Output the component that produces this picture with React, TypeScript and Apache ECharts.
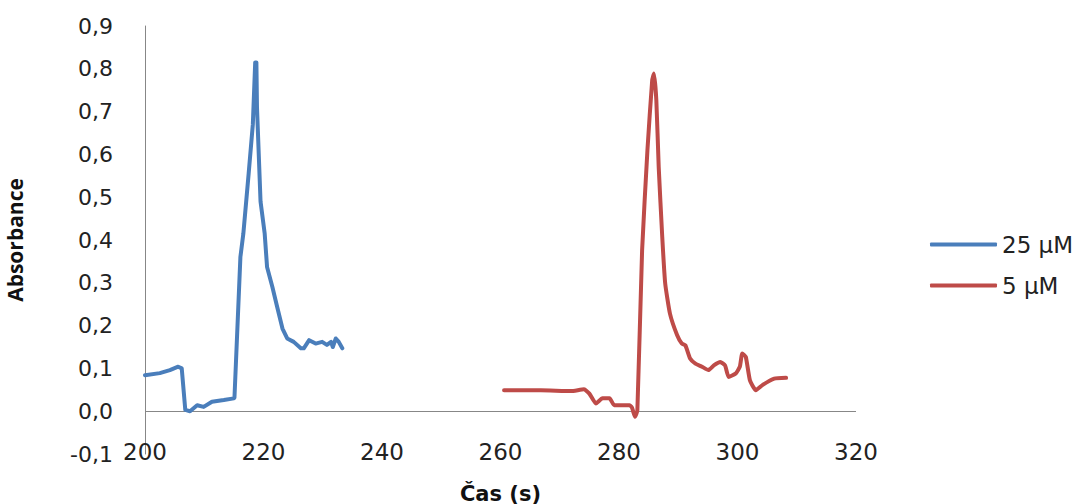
import React, { useEffect, useRef } from "react";
import * as echarts from "echarts";

const seriesNames = ["25 µM", "5 µM"];
const colors = ["#4A7EBB", "#BE4B48"];

const blueTime = [200, 202.5, 204.2, 205.6, 206.2, 206.8, 207.6, 208.8, 209.9, 211.3, 213.3, 215, 215.1, 216.1, 216.6, 217.5, 218.2, 218.6, 218.8, 218.9, 219.5, 220.2, 220.6, 221.5, 222.3, 223.2, 224, 225.1, 226.3, 226.8, 227.7, 228.8, 229.9, 230.7, 231.4, 231.7, 232.2, 232.7, 233.3];
const blueAbs = [0.084, 0.089, 0.096, 0.104, 0.1, 0.003, 0.0, 0.014, 0.01, 0.022, 0.026, 0.03, 0.032, 0.36, 0.415, 0.556, 0.67, 0.815, 0.815, 0.71, 0.49, 0.415, 0.337, 0.29, 0.244, 0.193, 0.17, 0.162, 0.147, 0.147, 0.166, 0.158, 0.162, 0.155, 0.162, 0.15, 0.17, 0.162, 0.147];

const redTime = [260.6, 266.8, 271.9, 274.1, 275, 276.1, 277.2, 278.4, 279.2, 281.8, 282.2, 282.7, 283.1, 283.9, 284.8, 285.6, 285.9, 286.3, 286.7, 287.3, 287.8, 288.6, 289.8, 290.6, 291.2, 292, 292.9, 294, 295.1, 296, 297.1, 297.9, 298.5, 299.7, 300.4, 300.8, 301.4, 302.1, 303.1, 304.2, 306.2, 308.2];
const redAbs = [0.049, 0.049, 0.047, 0.051, 0.041, 0.018, 0.03, 0.03, 0.014, 0.014, 0.008, -0.013, 0.002, 0.376, 0.61, 0.773, 0.789, 0.727, 0.571, 0.407, 0.298, 0.228, 0.178, 0.158, 0.154, 0.123, 0.111, 0.104, 0.096, 0.107, 0.115, 0.107, 0.08, 0.088, 0.104, 0.135, 0.127, 0.072, 0.049, 0.061, 0.076, 0.078];

const xMin = 200;
const xMax = 320;
const xInterval = 20;
const yMin = -0.1;
const yMax = 0.9;
const yInterval = 0.1;

const xTitle = "Čas (s)";
const yTitle = "Absorbance";

const pair = (t: number[], v: number[]) => t.map((x, i) => [x, v[i]]);

export default function App() {
  const ref = useRef<HTMLDivElement>(null);
  useEffect(() => {
    if (!ref.current) return;
    const chart = echarts.init(ref.current, undefined, { renderer: "svg" });
    const font = "DejaVu Sans";
    chart.setOption({
      animation: false,
      backgroundColor: "#ffffff",
      grid: { left: 145, right: 232, top: 26, bottom: 50, containLabel: false, outerBoundsMode: "none" },
      legend: {
        orient: "vertical",
        left: 930,
        top: 233,
        itemWidth: 67,
        itemHeight: 4,
        itemGap: 18,
        icon: "roundRect",
        padding: 0,
        textStyle: { fontFamily: font, fontSize: 23, color: "#222" },
        data: seriesNames,
      },
      xAxis: {
        type: "value",
        min: xMin,
        max: xMax,
        interval: xInterval,
        axisLine: { show: false, onZero: false },
        axisTick: { show: false },
        splitLine: { show: false },
        axisLabel: {
          margin: -2,
          verticalAlign: "middle",
          fontFamily: font,
          fontSize: 23,
          color: "#222",
        },
        name: xTitle,
        nameLocation: "middle",
        nameGap: 29,
        nameTextStyle: { fontFamily: font, fontSize: 21, fontWeight: "bold", color: "#111" },
      },
      yAxis: {
        type: "value",
        min: yMin,
        max: yMax,
        interval: yInterval,
        axisLine: { show: true, onZero: false, lineStyle: { color: "#878787", width: 1 } },
        axisTick: { show: false },
        splitLine: { show: false },
        axisLabel: {
          margin: 32,
          fontFamily: font,
          fontSize: 22,
          color: "#222",
          formatter: (v: number) => v.toFixed(1).replace(".", ","),
        },
        name: yTitle,
        nameLocation: "middle",
        nameGap: 120,
        nameRotate: 90,
        nameTextStyle: { fontFamily: "Open Sans", fontSize: 21, fontWeight: "bold", color: "#111" },
      },
      series: [
        {
          name: seriesNames[0],
          type: "line",
          data: pair(blueTime, blueAbs),
          showSymbol: false,
          symbol: "none",
          lineStyle: { color: colors[0], width: 4, cap: "round", join: "round" },
          itemStyle: { color: colors[0] },
          markLine: {
            silent: true,
            symbol: "none",
            label: { show: false },
            lineStyle: { color: "#878787", width: 1, type: "solid" },
            data: [{ yAxis: 0 }],
            z: 1,
          },
          z: 3,
        },
        {
          name: seriesNames[1],
          type: "line",
          data: pair(redTime, redAbs),
          showSymbol: false,
          symbol: "none",
          smooth: 0.15,
          lineStyle: { color: colors[1], width: 4, cap: "round", join: "round" },
          itemStyle: { color: colors[1] },
          z: 3,
        },
      ],
    });
    return () => chart.dispose();
  }, []);
  return (
    <div
      ref={ref}
      style={{ position: "fixed", left: 0, top: 0, width: 1088, height: 504, background: "#fff" }}
    />
  );
}
